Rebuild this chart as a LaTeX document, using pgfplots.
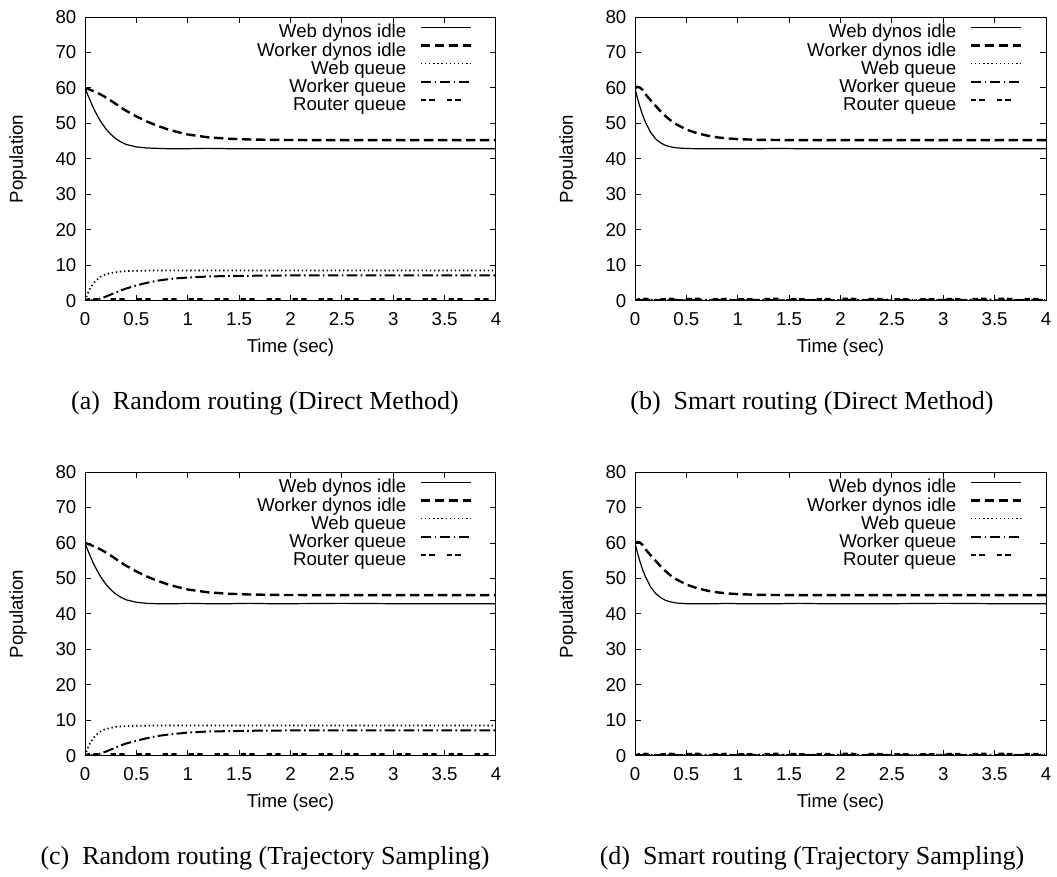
\documentclass[border=0pt]{standalone}
\usepackage{pgfplots}
\pgfplotsset{compat=1.18}
\usepackage{pgfplotstable}
\usepackage{fontspec}
\setmainfont{Liberation Sans}
\newfontfamily\capfont{Liberation Serif}

% columns: t webidle workidle webq workq routq
\pgfplotstableread{
t     webidle workidle webq workq routq
0     60.0  60.0   0.0   0.0   0.0
0.025 58.2  59.8   2.0   0.05  0.4
0.05  56.5  59.5   3.6   0.1   0.5
0.075 54.8  59.2   4.7   0.2   0.5
0.1   53.3  58.9   5.6   0.3   0.5
0.15  50.7  58.2   6.8   0.7   0.5
0.2   48.6  57.4   7.5   1.2   0.5
0.25  47.0  56.5   7.9   1.8   0.5
0.3   45.7  55.5   8.1   2.4   0.5
0.35  44.8  54.5   8.3   3.0   0.5
0.4   44.1  53.6   8.4   3.5   0.5
0.5   43.4  52.0   8.5   4.4   0.5
0.6   43.1  50.6   8.55  5.1   0.5
0.7   43.0  49.4   8.6   5.7   0.5
0.8   42.9  48.4   8.6   6.1   0.5
0.9   42.9  47.6   8.6   6.4   0.5
1.0   42.9  46.9   8.6   6.6   0.5
1.2   43.0  46.1   8.6   6.9   0.5
1.4   42.9  45.7   8.6   7.05  0.5
1.6   42.9  45.5   8.6   7.1   0.5
1.8   42.9  45.4   8.6   7.15  0.5
2.0   42.9  45.35  8.6   7.2   0.5
2.5   42.9  45.3   8.6   7.2   0.5
3.0   42.9  45.3   8.6   7.2   0.5
3.5   42.9  45.3   8.6   7.2   0.5
4.0   42.9  45.3   8.6   7.2   0.5
}\randomdirect

\pgfplotstableread{
t     webidle workidle webq workq routq
0     60.0  60.0   0.0   0.0   0.0
0.025 57.0  60.3   0.3   0.2   0.4
0.05  54.5  60.1   0.4   0.2   0.5
0.075 52.3  59.4   0.3   0.3   0.5
0.1   50.5  58.3   0.4   0.2   0.6
0.15  47.6  56.6   0.3   0.3   0.5
0.2   45.7  55.0   0.4   0.2   0.6
0.25  44.5  53.4   0.3   0.3   0.5
0.3   43.8  52.0   0.4   0.2   0.5
0.35  43.4  50.8   0.3   0.3   0.6
0.4   43.15 49.8   0.4   0.2   0.5
0.5   42.95 48.3   0.3   0.3   0.5
0.6   42.9  47.3   0.4   0.2   0.6
0.7   42.9  46.6   0.3   0.3   0.5
0.8   42.9  46.1   0.4   0.2   0.5
0.9   42.9  45.8   0.3   0.3   0.6
1.0   42.9  45.6   0.4   0.2   0.5
1.2   42.9  45.4   0.3   0.3   0.5
1.4   42.95 45.35  0.4   0.2   0.6
1.6   42.9  45.3   0.3   0.3   0.5
1.8   42.9  45.3   0.4   0.2   0.5
2.0   42.9  45.3   0.3   0.3   0.6
2.5   42.9  45.3   0.4   0.2   0.5
3.0   42.9  45.3   0.3   0.3   0.5
3.5   42.9  45.3   0.4   0.2   0.6
4.0   42.9  45.3   0.3   0.3   0.5
}\smartdirect

\pgfplotstableread{
t     webidle workidle webq workq routq
0     60.0  60.0   0.0   0.0   0.0
0.025 58.1  59.8   2.1   0.05  0.4
0.05  56.4  59.5   3.7   0.1   0.5
0.075 54.7  59.2   4.8   0.2   0.5
0.1   53.2  58.9   5.7   0.3   0.5
0.15  50.6  58.2   6.9   0.7   0.5
0.2   48.5  57.4   7.6   1.2   0.5
0.25  46.9  56.5   7.9   1.8   0.5
0.3   45.6  55.5   8.2   2.4   0.5
0.35  44.7  54.5   8.3   3.0   0.5
0.4   44.0  53.6   8.4   3.5   0.5
0.5   43.3  52.0   8.5   4.3   0.5
0.6   43.0  50.6   8.55  5.0   0.5
0.7   42.9  49.4   8.6   5.6   0.5
0.8   42.9  48.4   8.6   6.0   0.5
0.9   42.9  47.6   8.6   6.3   0.5
1.0   43.0  46.9   8.6   6.6   0.5
1.2   42.9  46.1   8.6   6.9   0.5
1.4   42.9  45.7   8.6   7.0   0.5
1.6   43.0  45.5   8.6   7.1   0.5
1.8   42.9  45.4   8.6   7.15  0.5
2.0   42.9  45.35  8.6   7.2   0.5
2.5   43.0  45.3   8.6   7.2   0.5
3.0   42.9  45.3   8.6   7.2   0.5
3.5   42.9  45.3   8.6   7.2   0.5
4.0   42.9  45.3   8.6   7.2   0.5
}\randomtraj

\pgfplotstableread{
t     webidle workidle webq workq routq
0     60.0  60.0   0.0   0.0   0.0
0.025 57.1  60.3   0.4   0.2   0.4
0.05  54.6  60.1   0.3   0.3   0.5
0.075 52.4  59.4   0.4   0.2   0.5
0.1   50.6  58.3   0.3   0.3   0.6
0.15  47.7  56.6   0.4   0.2   0.5
0.2   45.8  55.0   0.3   0.3   0.6
0.25  44.6  53.4   0.4   0.2   0.5
0.3   43.8  52.0   0.3   0.3   0.5
0.35  43.4  50.8   0.4   0.2   0.6
0.4   43.1  49.8   0.3   0.3   0.5
0.5   42.9  48.3   0.4   0.2   0.5
0.6   42.9  47.3   0.3   0.3   0.6
0.7   42.9  46.6   0.4   0.2   0.5
0.8   42.9  46.1   0.3   0.3   0.5
0.9   43.0  45.8   0.4   0.2   0.6
1.0   42.9  45.6   0.3   0.3   0.5
1.2   42.9  45.4   0.4   0.2   0.5
1.4   42.9  45.35  0.3   0.3   0.6
1.6   43.0  45.3   0.4   0.2   0.5
1.8   42.9  45.3   0.3   0.3   0.5
2.0   42.9  45.3   0.4   0.2   0.6
2.5   42.9  45.3   0.3   0.3   0.5
3.0   43.0  45.3   0.4   0.2   0.5
3.5   42.9  45.3   0.3   0.3   0.6
4.0   42.9  45.3   0.4   0.2   0.5
}\smarttraj

\pgfplotsset{
  mystyle/.style={
    scale only axis, width=308.25pt, height=213pt,
    anchor=south west,
    xmin=0, xmax=4, ymin=0, ymax=80,
    xtick={0,0.5,1,1.5,2,2.5,3,3.5,4},
    ytick={0,10,20,30,40,50,60,70,80},
    xticklabels={0,0.5,1,1.5,2,2.5,3,3.5,4},
    tick align=inside, major tick length=4.5pt,
    tick style={line width=0.75pt, black},
    axis line style={line width=0.75pt},
    /pgf/number format/assume math mode=true,
    ticklabel style={font=\fontsize{14}{16}\selectfont},
    xticklabel style={yshift=-5pt},
    yticklabel style={xshift=-3pt},
    xlabel={Time (sec)}, ylabel={Population},
    every axis x label/.style={at={(axis description cs:0.5,-0.1655)}, anchor=center, font=\fontsize{14}{16}\selectfont},
    every axis y label/.style={at={(axis description cs:-0.163,0.5)}, anchor=center, rotate=90, font=\fontsize{14}{16}\selectfont},
    legend style={draw=none, fill=none, at={(axis description cs:1,1)}, anchor=north east,
      xshift=-17.8pt, yshift=-5.5pt, inner sep=0pt, row sep=0.6pt, column sep=10pt,
      nodes={inner sep=0pt, text height=10pt, text depth=3pt, font=\fontsize{14}{16}\selectfont}},
    legend cell align=right, legend plot pos=right,
    legend image code/.code={\draw[##1] (0pt,4.5pt) -- (37.5pt,4.5pt);},
  },
  s1/.style={black, line width=0.9pt},
  s2/.style={black, line width=1.8pt, dash pattern=on 7pt off 3.5pt},
  s3/.style={black, line width=1.3pt, dash pattern=on 1pt off 2.1pt},
  s4/.style={black, line width=1.5pt, dash pattern=on 8pt off 2.5pt on 1.2pt off 2.5pt},
  s5/.style={black, line width=1.8pt, dash pattern=on 4pt off 2.5pt on 4pt off 9pt},
}

\newcommand\drawplots[1]{%
  \addplot[s1] table[x=t,y=webidle] {#1};
  \addlegendentry{Web dynos idle}
  \addplot[s2] table[x=t,y=workidle] {#1};
  \addlegendentry{Worker dynos idle}
  \addplot[s3] table[x=t,y=webq] {#1};
  \addlegendentry{Web queue}
  \addplot[s4] table[x=t,y=workq] {#1};
  \addlegendentry{Worker queue}
  \addplot[s5] table[x=t,y=routq] {#1};
  \addlegendentry{Router queue}
}

\begin{document}
\begin{tikzpicture}
\path[use as bounding box] (0pt,0pt) rectangle (792.75pt,657.75pt);

\begin{axis}[mystyle, at={(63.75pt,432pt)}]
\drawplots{\randomdirect}
\end{axis}

\begin{axis}[mystyle, at={(476.25pt,432pt)}]
\drawplots{\smartdirect}
\end{axis}

\begin{axis}[mystyle, at={(63.75pt,90.75pt)}]
\drawplots{\randomtraj}
\end{axis}

\begin{axis}[mystyle, at={(476.25pt,90.75pt)}]
\drawplots{\smarttraj}
\end{axis}

\node[font=\capfont\fontsize{19.5}{22}\selectfont, anchor=base] at (198.75pt,350.25pt) {(a)\hspace{0.5em}Random routing (Direct Method)};
\node[font=\capfont\fontsize{19.5}{22}\selectfont, anchor=base] at (609pt,350.25pt) {(b)\hspace{0.5em}Smart routing (Direct Method)};
\node[font=\capfont\fontsize{19.5}{22}\selectfont, anchor=base] at (198.75pt,9pt) {(c)\hspace{0.5em}Random routing (Trajectory Sampling)};
\node[font=\capfont\fontsize{19.5}{22}\selectfont, anchor=base] at (609pt,9pt) {(d)\hspace{0.5em}Smart routing (Trajectory Sampling)};
\end{tikzpicture}
\end{document}
